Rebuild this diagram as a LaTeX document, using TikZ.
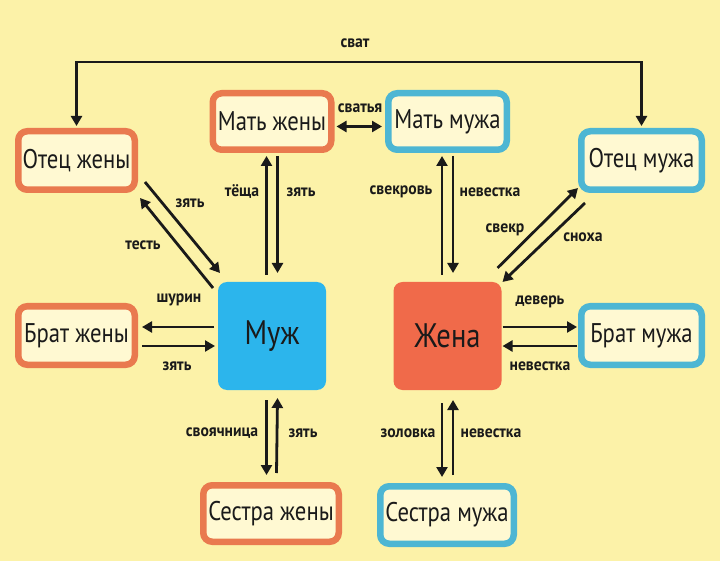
\documentclass[tikz,border=0pt]{standalone}
\usepackage{fontspec}
\setmainfont{PT Sans}[FakeStretch=0.84]
\newfontfamily\lblfont{PT Sans}[FakeStretch=0.92]
\usetikzlibrary{arrows.meta,calc}
\definecolor{bgc}{HTML}{FCF2A8}
\definecolor{orb}{HTML}{E97A4F}
\definecolor{blb}{HTML}{4DB6D3}
\definecolor{inner}{HTML}{FFF9D2}
\definecolor{muzhc}{HTML}{2CB5EC}
\definecolor{zhenac}{HTML}{F06A4A}
\definecolor{ink}{HTML}{1A1A1A}
\tikzset{
  kin/.style={draw, line width=6.5pt, fill=inner, rounded corners=9pt, inner sep=0pt,
    font=\fontsize{27}{29}\selectfont, text=ink, minimum height=58.5pt},
  wifeside/.style={kin, draw=orb},
  husbside/.style={kin, draw=blb},
  core/.style={rounded corners=9pt, inner sep=0pt, outer sep=0pt, minimum width=108pt,
    minimum height=108pt, font=\fontsize{34}{36}\selectfont},
  arr/.style={line width=2.8pt, draw=ink, -{Triangle[length=10pt,width=11pt]}},
  darr/.style={line width=2.8pt, draw=ink, {Triangle[length=10pt,width=11pt]}-{Triangle[length=10pt,width=11pt]}},
  lbl/.style={font=\lblfont\bfseries\fontsize{17}{18}\selectfont, text=ink, inner sep=0pt}
}
\begin{document}
\begin{tikzpicture}[x=1pt,y=-1pt]
\fill[bgc] (0,0) rectangle (720,561);
\useasboundingbox (0,0) rectangle (720,561);

% nodes
\node[wifeside, minimum width=116.5pt] (otzh) at (76.5,160.5) {Отец жены};
\node[wifeside, minimum width=118.5pt, minimum height=56.5pt] (matzh) at (272,121.5) {Мать жены};
\node[husbside, minimum width=118.5pt, minimum height=56.5pt] (matm) at (447.5,121.5) {Мать мужа};
\node[husbside, minimum width=120.5pt] (otm) at (641.5,160.5) {Отец мужа};
\node[wifeside, minimum width=116.5pt] (brzh) at (76.5,335.5) {Брат жены};
\node[husbside, minimum width=120.5pt] (brm) at (641.5,335.5) {Брат мужа};
\node[wifeside, minimum width=135.5pt, minimum height=56.5pt] (sezh) at (271,513.5) {Сестра жены};
\node[husbside, minimum width=133.5pt, minimum height=57.5pt] (sem) at (447,515) {Сестра мужа};
\node[core, fill=muzhc, text=ink] (muzh) at (272,336) {Муж};
\node[core, fill=zhenac, text=ink] (zhena) at (447.5,336) {Жена};

% сват
\draw[darr] ($(otzh.north)+(0,-2)$) |- ($(matzh.north)+(0,-28)$) -| ($(otm.north)+(0,-2)$);
\node[lbl] at (355,43) {сват};

% сватья
\draw[darr] ($(matzh.east)+(2,5)$) -- ($(matm.west)+(-3,5)$);
\node[lbl] at (360,108) {сватья};

% Мать жены <-> Муж
\draw[arr] ($(muzh.north)+(-5.5,-7)$) -- ($(matzh.south)+(-5.5,3)$);
\draw[arr] ($(matzh.south)+(5.5,3)$) -- ($(muzh.north)+(5.5,-9)$);
\node[lbl] at (242,192) {тёща};
\node[lbl] at (301,192) {зять};

% Мать мужа <-> Жена
\draw[arr] ($(zhena.north)+(-5.5,-7)$) -- ($(matm.south)+(-5.5,3)$);
\node[lbl] at (401,192) {свекровь};
\draw[arr] ($(matm.south)+(5.5,3)$) -- ($(zhena.north)+(5.5,-9)$);
\node[lbl] at (490,192) {невестка};

% Отец жены <-> Муж
\draw[arr] ($(otzh.south east)+(7,-11)$) -- ($(muzh.north west)+(2,-9)$);
\draw[arr] ($(muzh.north west)+(-5,6)$) -- ($(otzh.south east)+(2,5)$);
\node[lbl] at (190,203) {зять};
\node[lbl] at (143,245) {тесть};

% Отец мужа <-> Жена
\draw[arr] ($(zhena.north east)+(-4,-14)$) -- ($(otm.south west)+(0,-5)$);
\draw[arr] ($(otm.south west)+(7,10)$) -- ($(zhena.north east)+(1,0)$);
\node[lbl] at (505,230) {свекр};
\node[lbl] at (583,237) {сноха};

% Брат жены <-> Муж
\draw[arr] ($(muzh.west)+(-4,-9)$) -- ($(brzh.east)+(4,-8.5)$);
\draw[arr] ($(brzh.east)+(4,10.5)$) -- ($(muzh.west)+(-3,10)$);
\node[lbl] at (179,300) {шурин};
\node[lbl] at (177,366) {зять};

% Жена <-> Брат мужа
\draw[arr] ($(zhena.east)+(1,-9)$) -- ($(brm.west)+(-1,-8.5)$);
\draw[arr] ($(brm.west)+(-1,10.5)$) -- ($(zhena.east)+(1,10)$);
\node[lbl] at (540,302) {деверь};
\node[lbl] at (540,366) {невестка};

% Муж <-> Сестра жены
\draw[arr] ($(muzh.south)+(-5.5,10)$) -- ($(sezh.north)+(-4.5,-7)$);
\draw[arr] ($(sezh.north)+(5.5,-9)$) -- ($(muzh.south)+(5.5,8)$);
\node[lbl] at (222,433) {своячница};
\node[lbl] at (303,433) {зять};

% Жена <-> Сестра мужа
\draw[arr] ($(zhena.south)+(-5.5,13)$) -- ($(sem.north)+(-5,-6)$);
\draw[arr] ($(sem.north)+(6,-8)$) -- ($(zhena.south)+(5.5,10)$);
\node[lbl] at (408,433) {золовка};
\node[lbl] at (491,433) {невестка};
\end{tikzpicture}
\end{document}
